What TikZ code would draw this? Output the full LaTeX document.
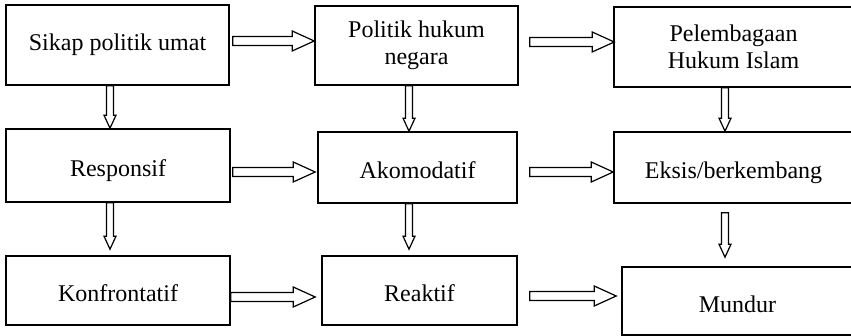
\documentclass[tikz,border=0pt]{standalone}
\usepackage{fontspec}
\setmainfont{Liberation Serif}
\usetikzlibrary{calc}

\tikzset{
  box/.style={draw, line width=1.6pt, align=center, inner sep=0pt,
    font=\fontsize{24}{27}\selectfont},
  lowtext/.style={text height=28pt, text depth=5pt},
  harrow/.style={draw, line width=1.2pt, fill=white, to path={
    let \p1=(\tikztostart), \p2=(\tikztotarget) in
    (\x1,\y1+4.5pt) -- (\x2-22pt,\y1+4.5pt) -- (\x2-22pt,\y1+10pt) -- (\x2,\y1)
    -- (\x2-22pt,\y1-10pt) -- (\x2-22pt,\y1-4.5pt) -- (\x1,\y1-4.5pt) -- cycle}},
  varrow/.style={draw, line width=1.2pt, fill=white, to path={
    let \p1=(\tikztostart), \p2=(\tikztotarget) in
    (\x1-3.5pt,\y1) -- (\x1-3.5pt,\y2+13pt) -- (\x1-6pt,\y2+13pt) -- (\x1,\y2)
    -- (\x1+6pt,\y2+13pt) -- (\x1+3.5pt,\y2+13pt) -- (\x1+3.5pt,\y1) -- cycle}}
}

\begin{document}
\begin{tikzpicture}[x=1pt, y=-1pt]
\clip (0,0) rectangle (851,336);

\node[box, minimum width=223pt, minimum height=80pt] (sikap) at (117.5,45) {Sikap politik umat};
\node[box, minimum width=203pt, minimum height=79pt] (polhuk) at (416.5,45.5) {Politik hukum\\negara};
\node[box, minimum width=239pt, minimum height=80pt] (lembaga) at (733.5,47) {Pelembagaan\\Hukum Islam};

\node[box, lowtext, minimum width=224pt, minimum height=73pt] (resp) at (118,165.5) {Responsif};
\node[box, lowtext, minimum width=199pt, minimum height=71pt] (akom) at (417.5,167.5) {Akomodatif};
\node[box, lowtext, minimum width=239pt, minimum height=71pt] (eksis) at (733.5,167.5) {Eksis/berkembang};

\node[box, lowtext, minimum width=224pt, minimum height=69pt] (konf) at (118,290.5) {Konfrontatif};
\node[box, lowtext, minimum width=195pt, minimum height=69pt] (reak) at (419.5,290.5) {Reaktif};
\node[box, lowtext, minimum width=231pt, minimum height=68pt] (mund) at (737.5,301) {Mundur};

\draw[harrow] ([xshift=3pt,yshift=4pt]sikap.east) to (polhuk.west);
\draw[harrow] ([xshift=11pt,yshift=3.5pt]polhuk.east) to ([xshift=1pt]lembaga.west);
\draw[harrow] ([xshift=2pt,yshift=-6.5pt]resp.east) to ([xshift=-2pt]akom.west);
\draw[harrow] ([xshift=12pt,yshift=-4.5pt]akom.east) to (eksis.west);
\draw[harrow] ([yshift=-6.5pt]konf.east) to ([xshift=-6pt]reak.west);
\draw[harrow] ([xshift=12pt,yshift=-5.5pt]reak.east) to ([xshift=-5pt]mund.west);

\draw[varrow] ([xshift=-7.5pt]sikap.south) to (resp.north);
\draw[varrow] ([xshift=-7.5pt]polhuk.south) to (akom.north);
\draw[varrow] ([xshift=-8.5pt]lembaga.south) to (eksis.north);
\draw[varrow] ([xshift=-8pt]resp.south) to ([yshift=6pt]konf.north);
\draw[varrow] ([xshift=-8.5pt]akom.south) to ([yshift=6pt]reak.north);
\draw[varrow] ([xshift=-8.5pt,yshift=-9pt]eksis.south) to ([yshift=9pt]mund.north);
\end{tikzpicture}
\end{document}
